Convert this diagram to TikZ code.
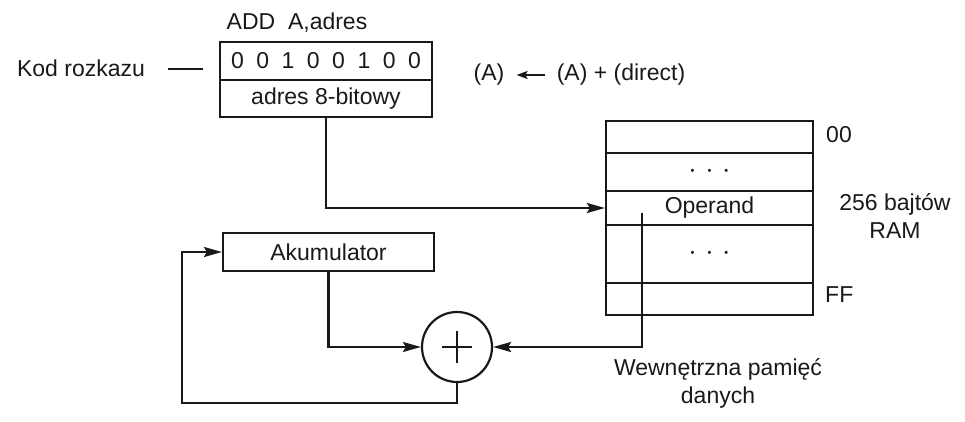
\documentclass[tikz,border=0pt]{standalone}
\usepackage{fontspec}
\setmainfont{Liberation Sans}
\usetikzlibrary{arrows.meta}
\newcommand{\mydots}{{\fontsize{11}{11}\selectfont •\hspace{13pt}•\hspace{13pt}•}}
\begin{document}
\begin{tikzpicture}[x=1pt,y=-1pt,
  every node/.style={font=\fontsize{23}{28}\selectfont, inner sep=0pt, text=black!90},
  ln/.style={line width=2.2pt, draw=black!90},
  cell/.style={draw=black!90, line width=2.2pt, rectangle},
  arr/.style={ln, -{Stealth[length=18pt,width=10pt,inset=3pt]}},
]
\useasboundingbox (0,0) rectangle (965,422);

% instruction
\node (title) at (297,23) {ADD\ \ A,adres};
\node[cell, minimum width=212, minimum height=38] (op) at (326,61)
  {0\hspace{12.5pt}0\hspace{12.5pt}1\hspace{12.5pt}0\hspace{12.5pt}0\hspace{12.5pt}1\hspace{12.5pt}0\hspace{12.5pt}0};
\node[cell, minimum width=212, minimum height=37] (addr) at (326,98.5) {adres 8-bitowy};
\node (kod) at (81,68) {Kod rozkazu};
\coordinate (k1) at (168,69);
\coordinate (k2) at (203,69);
\draw[ln] (k1) -- (k2);

\node (eqa) at (489,75) {(A)};
\node (eqb) at (621,75) {(A) + (direct)};
\draw[ln, -{Stealth[length=11pt,width=8pt,inset=2pt]}, line width=1.8pt] ([xshift=-12pt]eqb.west) -- ([xshift=12pt]eqa.east);

% RAM
\node[cell, minimum width=207, minimum height=32] (r1) at (709.5,137) {};
\node[cell, minimum width=207, minimum height=38] (r2) at (709.5,172) {\mydots};
\node[cell, minimum width=207, minimum height=34] (opnd) at (709.5,208) {Operand};
\node[cell, minimum width=207, minimum height=58] (r4) at (709.5,254) {\mydots};
\node[cell, minimum width=207, minimum height=32] (r5) at (709.5,299) {};
\node[anchor=west] (l00) at (826,135) {00};
\node[anchor=west] (lff) at (825,295) {FF};
\node[align=center] (ram) at (895,216) {256 bajtów\\RAM};
\node[align=center] (wew) at (718,383) {Wewnętrzna pamięć\\danych};

% accumulator and adder
\node[cell, minimum width=211, minimum height=38] (acc) at (328.5,252) {Akumulator};
\node[circle, ln, draw, minimum size=70] (sum) at (457,347) {};
\draw[ln] ([xshift=-15pt]sum.center) -- ([xshift=15pt]sum.center);
\draw[ln] ([yshift=-16pt]sum.center) -- ([yshift=16pt]sum.center);

% connectors
\draw[arr] (addr.south) |- (opnd.west);
\coordinate (otap) at (642,213);
\draw[arr] (otap) |- (sum.east);
\draw[arr] (acc.south) |- (sum.west);
\coordinate (fb) at (182,403);
\draw[arr] (sum.south) |- (fb) |- (acc.west);
\end{tikzpicture}
\end{document}
